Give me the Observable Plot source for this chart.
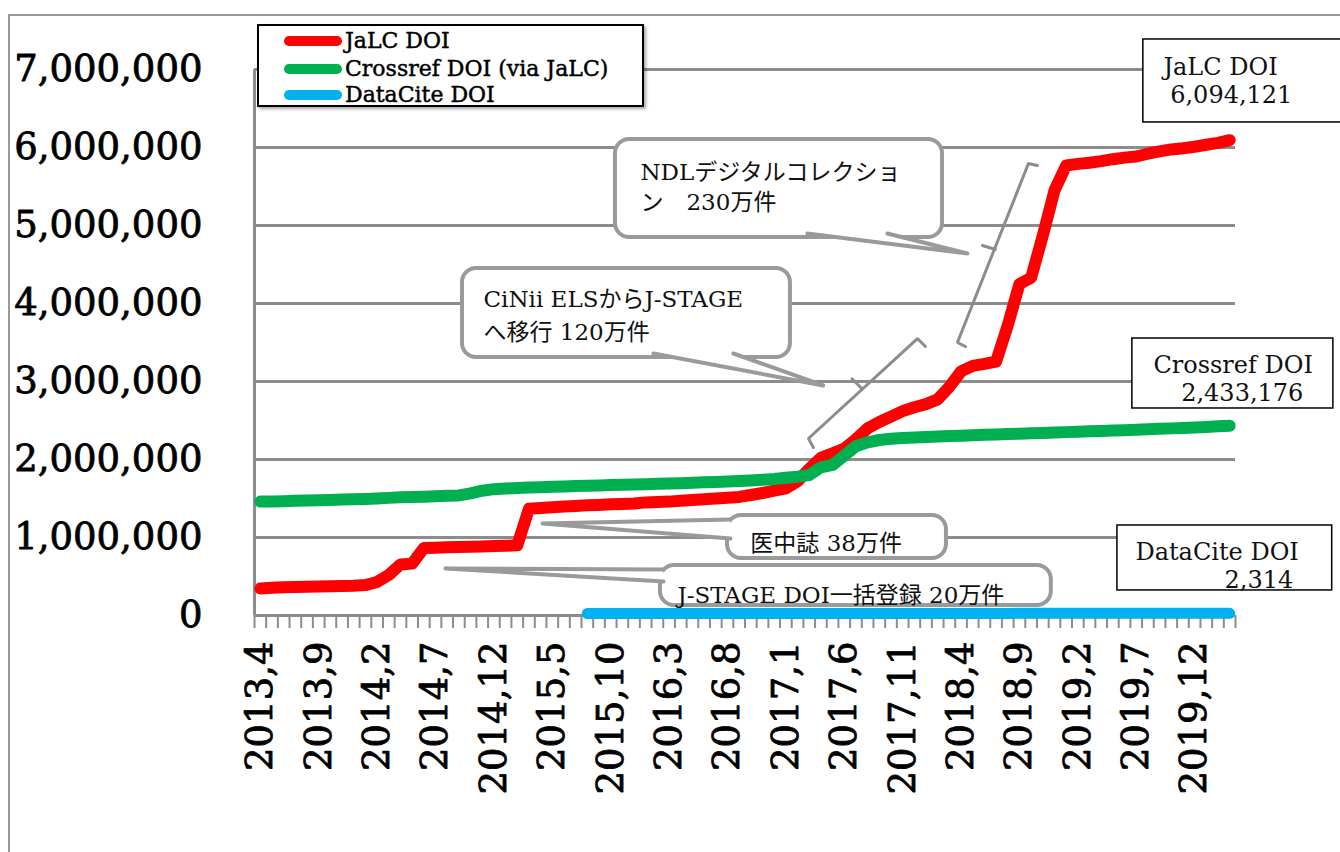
<!DOCTYPE html>
<html>
<head>
<meta charset="utf-8">
<script src="https://cdn.jsdelivr.net/npm/d3@7"></script>
<script src="https://cdn.jsdelivr.net/npm/@observablehq/plot@0.6"></script>
<style>
  html, body { margin: 0; padding: 0; background: #fff; }
  body { width: 1340px; height: 852px; overflow: hidden; position: relative; font-family: "DejaVu Serif", "Noto Sans CJK JP", serif; }
  #frame { position: absolute; left: 8px; top: 14px; width: 1400px; height: 900px; border: 2px solid #9a9a9a; box-sizing: border-box; }
  #chart { position: absolute; left: 0; top: 0; }
  #legend { position: absolute; left: 257px; top: 24px; width: 387px; height: 83px; box-sizing: border-box; border: 2.5px solid #000; background: #fff; box-shadow: 2px 2px 3px rgba(0,0,0,0.35); }
  .item { position: absolute; left: 0; height: 26px; width: 380px; }
  .sw { position: absolute; left: 25px; width: 58px; height: 10px; border-radius: 5px; top: 8px; }
  .lab { position: absolute; left: 86px; top: 0; font-size: 22px; line-height: 26px; color: #000; white-space: nowrap; -webkit-text-stroke: 0.45px #000; }
</style>
</head>
<body>
<div id="frame"></div>
<div id="chart"></div>
<div id="legend"></div>
<script>
// ---- data ----
const months = [
  "2013,4","2013,5","2013,6","2013,7","2013,8","2013,9","2013,10","2013,11","2013,12",
  "2014,1","2014,2","2014,3","2014,4","2014,5","2014,6","2014,7","2014,8","2014,9","2014,10","2014,11","2014,12",
  "2015,1","2015,2","2015,3","2015,4","2015,5","2015,6","2015,7","2015,8","2015,9","2015,10","2015,11","2015,12",
  "2016,1","2016,2","2016,3","2016,4","2016,5","2016,6","2016,7","2016,8","2016,9","2016,10","2016,11","2016,12",
  "2017,1","2017,2","2017,3","2017,4","2017,5","2017,6","2017,7","2017,8","2017,9","2017,10","2017,11","2017,12",
  "2018,1","2018,2","2018,3","2018,4","2018,5","2018,6","2018,7","2018,8","2018,9","2018,10","2018,11","2018,12",
  "2019,1","2019,2","2019,3","2019,4","2019,5","2019,6","2019,7","2019,8","2019,9","2019,10","2019,11","2019,12",
  "2020,1","2020,2","2020,3"
];
const labelMonths = ["2013,4","2013,9","2014,2","2014,7","2014,12","2015,5","2015,10","2016,3","2016,8",
  "2017,1","2017,6","2017,11","2018,4","2018,9","2019,2","2019,7","2019,12"];
const yTicks = [0, 1000000, 2000000, 3000000, 4000000, 5000000, 6000000, 7000000];

const jalc = [
  345000, 355000, 362000, 366000, 369000, 372000, 375000, 378000, 382000, 390000,
  430000, 520000, 655000, 665000, 865000, 870000, 874000, 878000, 882000, 886000,
  890000, 894000, 900000, 1368000, 1378000, 1388000, 1398000, 1405000, 1412000, 1418000,
  1425000, 1430000, 1435000, 1450000, 1455000, 1460000, 1470000, 1480000, 1490000, 1500000,
  1510000, 1520000, 1545000, 1570000, 1600000, 1630000, 1720000, 1880000, 2020000, 2080000,
  2140000, 2260000, 2400000, 2480000, 2550000, 2620000, 2670000, 2710000, 2770000, 2930000,
  3130000, 3200000, 3225000, 3255000, 3720000, 4250000, 4330000, 4870000, 5450000, 5770000,
  5790000, 5805000, 5825000, 5850000, 5870000, 5885000, 5920000, 5950000, 5975000, 5990000,
  6010000, 6035000, 6060000, 6094121
];
const crossref = [
  1460000, 1463000, 1466000, 1470000, 1474000, 1478000, 1482000, 1486000, 1490000, 1494000,
  1500000, 1508000, 1515000, 1520000, 1524000, 1528000, 1534000, 1540000, 1565000, 1600000,
  1620000, 1628000, 1634000, 1640000, 1645000, 1650000, 1655000, 1660000, 1664000, 1668000,
  1672000, 1676000, 1680000, 1684000, 1688000, 1692000, 1697000, 1702000, 1707000, 1712000,
  1718000, 1725000, 1732000, 1740000, 1750000, 1765000, 1780000, 1800000, 1900000, 1930000,
  2050000, 2170000, 2220000, 2250000, 2265000, 2275000, 2282000, 2288000, 2294000, 2300000,
  2306000, 2311000, 2316000, 2321000, 2326000, 2331000, 2336000, 2341000, 2346000, 2351000,
  2356000, 2361000, 2366000, 2371000, 2376000, 2381000, 2387000, 2393000, 2399000, 2405000,
  2411000, 2418000, 2425000, 2433176
];
const datacite = [
  null, null, null, null, null, null, null, null, null, null,
  null, null, null, null, null, null, null, null, null, null,
  null, null, null, null, null, null, null, null, 35, 62,
  95, 128, 171, 214, 255, 302, 338, 391, 433, 468,
  521, 566, 607, 655, 698, 742, 786, 833, 879, 927,
  975, 1024, 1068, 1113, 1158, 1204, 1247, 1293, 1338, 1379,
  1421, 1458, 1502, 1539, 1583, 1618, 1663, 1702, 1739, 1784,
  1822, 1861, 1903, 1938, 1982, 2019, 2064, 2098, 2141, 2178,
  2213, 2249, 2282, 2314
];

const seriesNames = ["JaLC DOI", "Crossref DOI (via JaLC)", "DataCite DOI"];
const seriesColors = ["#ff0000", "#00b050", "#00b0f0"];

// ---- annotations (positions in data units: month index, DOI count) ----
const calloutBoxes = [
  {id: "ndl",    x1: 30.41, x2: 58.41, y1: 4846000, y2: 6103000},
  {id: "cinii",  x1: 17.31, x2: 45.39, y1: 3308000, y2: 4449000},
  {id: "ichu",   x1: 40.00, x2: 58.75, y1: 731000,  y2: 1282000},
  {id: "jstage", x1: 34.26, x2: 67.73, y1: 128000,  y2: 641000}
];
const calloutTexts = [
  {x: 32.55, y: 5679000, text: "NDLデジタルコレクショ"},
  {x: 32.55, y: 5295000, text: "ン　230万件"},
  {x: 19.11, y: 4051000, text: "CiNii ELSからJ-STAGE"},
  {x: 19.11, y: 3628000, text: "へ移行 120万件"},
  {x: 41.96, y: 923000,  text: "医中誌 38万件"},
  {x: 35.72, y: 256000,  text: "J-STAGE DOI一括登録 20万件"}
];
const tails = [
  {id: "ndl",    pts: [[46.84, 4897000], [60.54, 4641000], [53.69, 4897000]]},
  {id: "cinii",  pts: [[33.66, 3359000], [48.20, 2949000], [40.51, 3359000]]},
  {id: "ichu",   pts: [[40.25, 1231000], [24.16, 1179000], [40.25, 987000]]},
  {id: "jstage", pts: [[34.52, 590000],  [15.85, 603000],  [34.52, 436000]]}
];
const brackets = [
  {id: "b1", pts: [[47.36, 2154000], [46.93, 2269000], [56.27, 3551000], [56.95, 3449000]]},
  {id: "b1m", pts: [[51.53, 2904000], [50.67, 3035000]]},
  {id: "b2", pts: [[60.38, 3449000], [59.69, 3500000], [65.77, 5795000], [66.54, 5769000]]},
  {id: "b2m", pts: [[62.94, 4692000], [61.83, 4744000]]}
];
const valueBoxes = [
  {x1: 75.61, x2: 92.65, y1: 6321000, y2: 7385000},
  {x1: 74.67, x2: 91.88, y1: 2654000, y2: 3551000},
  {x1: 73.39, x2: 91.78, y1: 321000,  y2: 1154000}
];
const fmt = d3.format(",");
const valueNames = [
  {x: 77.33, y: 7026000, text: "JaLC DOI"},
  {x: 76.47, y: 3205000, text: "Crossref DOI"},
  {x: 74.93, y: 808000,  text: "DataCite DOI"}
];
const valueNums = [
  {x: 88.37, y: 6667000, text: fmt(jalc[jalc.length - 1])},
  {x: 89.31, y: 2846000, text: fmt(crossref[crossref.length - 1])},
  {x: 88.45, y: 449000,  text: fmt(datacite[datacite.length - 1])}
];

// ---- build ----
const rows = months.map((m, i) => ({i, m, jalc: jalc[i], crossref: crossref[i], datacite: datacite[i]}));
const flat = arr => arr.flatMap(d => d.pts.map(([x, y]) => ({id: d.id, x, y})));
const labelIdx = labelMonths.map(m => months.indexOf(m));
const boundaries = d3.range(months.length + 1).map(k => k - 0.5);
const GRAY = "#8c8c8c";
const CALL = "#9a9a9a";
const FONT = "'DejaVu Serif', 'Noto Sans CJK JP', serif";

const chart = Plot.plot({
  width: 1340,
  height: 852,
  marginLeft: 254,
  marginRight: 105,
  marginTop: 69,
  marginBottom: 237,
  x: {type: "linear", domain: [-0.5, months.length - 0.5]},
  y: {domain: [0, 7000000]},
  style: {fontFamily: FONT, background: "transparent", overflow: "visible", color: "#000"},
  marks: [
    Plot.gridY({ticks: yTicks.slice(1), stroke: GRAY, strokeOpacity: 1, strokeWidth: 3}),
    Plot.ruleY([0], {stroke: GRAY, strokeWidth: 3}),
    Plot.ruleX([-0.5], {y1: 0, y2: 7000000, stroke: GRAY, strokeWidth: 3}),
    Plot.axisX({ticks: boundaries, tickSize: 13, tickFormat: () => "", stroke: GRAY, strokeWidth: 2}),
    Plot.axisX({ticks: labelIdx, tickSize: 0, tickPadding: 26, tickRotate: -90,
      tickFormat: i => months[i], fontSize: 37, fill: "#000", textStroke: "#000", textStrokeWidth: 0.8}),
    Plot.axisY({ticks: yTicks, tickSize: 0, tickPadding: 52, tickFormat: fmt, fontSize: 37, fill: "#000",
      textStroke: "#000", textStrokeWidth: 0.8}),
    Plot.line(rows, {x: "i", y: "jalc", stroke: seriesColors[0], strokeWidth: 12, strokeLinecap: "round", strokeLinejoin: "round"}),
    Plot.line(rows, {x: "i", y: "crossref", stroke: seriesColors[1], strokeWidth: 12, strokeLinecap: "round", strokeLinejoin: "round"}),
    Plot.line(rows, {x: "i", y: "datacite", stroke: seriesColors[2], strokeWidth: 11, strokeLinecap: "round", strokeLinejoin: "round", dy: -2}),
    // brackets
    Plot.line(flat(brackets), {x: "x", y: "y", z: "id", stroke: GRAY, strokeWidth: 3, strokeLinejoin: "miter"}),
    // callouts
    Plot.rect(calloutBoxes, {x1: "x1", x2: "x2", y1: "y1", y2: "y2", fill: "white", stroke: CALL, strokeWidth: 4, rx: 14}),
    Plot.line(flat(tails), {x: "x", y: "y", z: "id", fill: "white", stroke: CALL, strokeWidth: 4, strokeLinejoin: "round", strokeLinecap: "round"}),
    Plot.text(calloutTexts, {x: "x", y: "y", text: "text", textAnchor: "start", fontSize: 23, fill: "#111"}),
    // value boxes
    Plot.rect(valueBoxes, {x1: "x1", x2: "x2", y1: "y1", y2: "y2", fill: "white", stroke: "#000", strokeWidth: 1.5}),
    Plot.text(valueNames, {x: "x", y: "y", text: "text", textAnchor: "start", fontSize: 24, fill: "#111"}),
    Plot.text(valueNums, {x: "x", y: "y", text: "text", textAnchor: "end", fontSize: 24, fill: "#111"})
  ]
});
document.getElementById("chart").appendChild(chart);

// legend
const legend = document.getElementById("legend");
const legendTops = [2, 30, 56];
seriesNames.forEach((name, k) => {
  const it = document.createElement("div");
  it.className = "item";
  it.style.top = legendTops[k] + "px";
  const sw = document.createElement("div");
  sw.className = "sw";
  sw.style.background = seriesColors[k];
  const lab = document.createElement("div");
  lab.className = "lab";
  lab.textContent = name;
  it.appendChild(sw); it.appendChild(lab);
  legend.appendChild(it);
});
</script>
</body>
</html>
